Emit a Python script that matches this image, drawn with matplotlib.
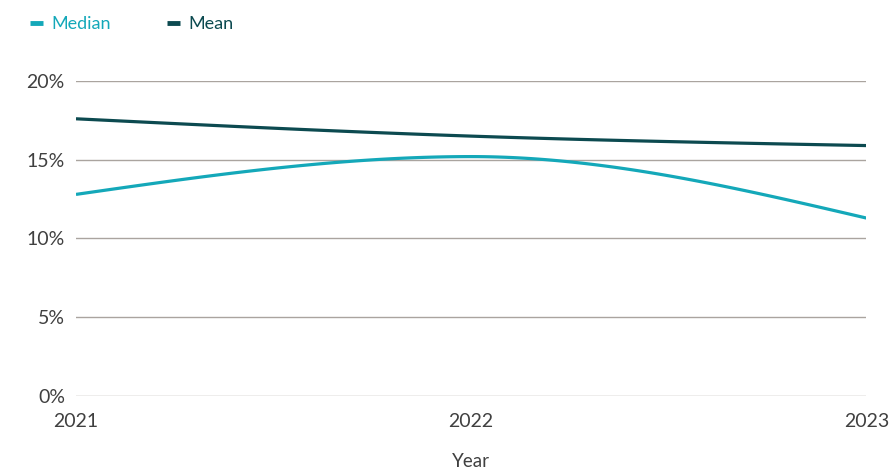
import numpy as np
import matplotlib
matplotlib.use("Agg")
import matplotlib.pyplot as plt
from matplotlib.ticker import MultipleLocator, FuncFormatter

years = [2021, 2022, 2023]
median_pct = [12.8, 15.2, 11.3]
mean_pct = [17.6, 16.5, 15.9]

teal = "#14a8b9"
dark_teal = "#0c4a50"
text_grey = "#404040"
grid_grey = "#aaa49f"

plt.rcParams['font.family'] = ['Lato', 'DejaVu Sans']


def monotone_x(x, y, n=60):
    # monotone cubic hermite, same tangents as d3.curveMonotoneX
    x = np.asarray(x, float)
    y = np.asarray(y, float)
    h = np.diff(x)
    s = np.diff(y) / h
    t = np.zeros_like(y)
    for i in range(1, len(x) - 1):
        p = (s[i - 1] * h[i] + s[i] * h[i - 1]) / (h[i - 1] + h[i])
        t[i] = (np.sign(s[i - 1]) + np.sign(s[i])) * min(abs(s[i - 1]), abs(s[i]), 0.5 * abs(p))
    t[0] = (3 * s[0] - t[1]) / 2
    t[-1] = (3 * s[-1] - t[-2]) / 2
    xs, ys = [], []
    for i in range(len(x) - 1):
        u = np.linspace(0, 1, n)
        h00 = 2 * u**3 - 3 * u**2 + 1
        h10 = u**3 - 2 * u**2 + u
        h01 = -2 * u**3 + 3 * u**2
        h11 = u**3 - u**2
        xs.append(x[i] + u * h[i])
        ys.append(h00 * y[i] + h10 * h[i] * t[i] + h01 * y[i + 1] + h11 * h[i] * t[i + 1])
    return np.concatenate(xs), np.concatenate(ys)


fig = plt.figure(figsize=(8.94, 4.75), dpi=100)
ax = fig.add_axes([0.085, 0.1663, 0.884, 0.6632])

mx, my = monotone_x(years, median_pct)
ax.plot(mx, my, color=teal, lw=2.3, label="Median", solid_capstyle='butt', zorder=3)
ex, ey = monotone_x(years, mean_pct)
ax.plot(ex, ey, color=dark_teal, lw=2.3, label="Mean", solid_capstyle='butt', zorder=3)

ax.set_xlim(2021, 2023)
ax.set_ylim(0, 20)
ax.yaxis.set_major_locator(MultipleLocator(5))
ax.yaxis.set_major_formatter(FuncFormatter(lambda v, p: f"{v:.0f}%"))
ax.set_xticks(years)
ax.set_xticklabels([str(y) for y in years])

ax.grid(axis='y', color=grid_grey, lw=1.0)
ax.set_axisbelow(True)
for side in ['top', 'bottom', 'left', 'right']:
    ax.spines[side].set_visible(False)
ax.tick_params(axis='both', length=0, labelsize=14, labelcolor=text_grey)
ax.tick_params(axis='y', pad=8)
ax.tick_params(axis='x', pad=12)

ax.set_xlabel("Year", fontsize=13.5, color=text_grey, labelpad=17)

leg = fig.legend(loc='upper left', bbox_to_anchor=(0.015, 1.0), ncol=2, frameon=False,
                 handlelength=0.75, handletextpad=0.45, columnspacing=3.1,
                 fontsize=13, labelcolor='linecolor')
for line in leg.get_lines():
    line.set_linewidth(3.5)

fig.savefig("out.png", dpi=100)
